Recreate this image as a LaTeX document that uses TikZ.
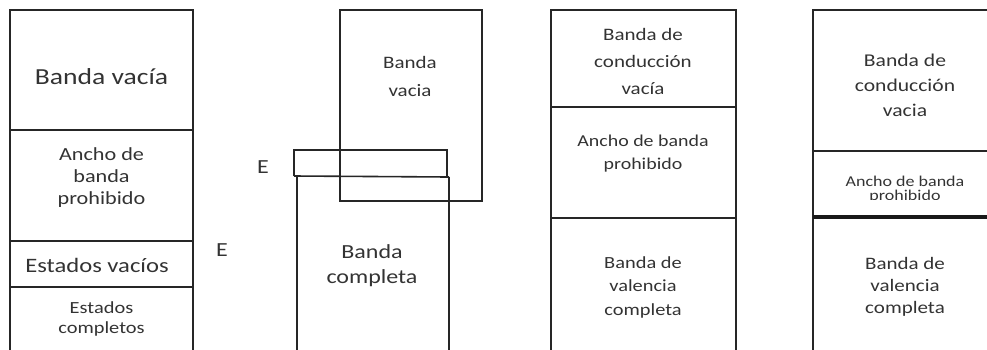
\documentclass[tikz,border=0pt]{standalone}
\usepackage{fontspec}
\setmainfont{Carlito}[FakeStretch=1.2]
\newcommand{\fsz}[2]{\fontsize{#1}{#2}\selectfont}
\tikzset{
  bx/.style={draw=black!85, line width=1.6pt},
  lbl/.style={align=center, text=black!80, inner sep=0pt},
}
\begin{document}
\begin{tikzpicture}[x=1pt,y=-1pt]
\useasboundingbox (0,0) rectangle (987,349);
\clip (0,0) rectangle (987,349);
% ---------- column 1
\draw[bx] (10,360) -- (10,10) -- (193,10) -- (193,360);
\draw[bx] (10,130) -- (193,130);
\draw[bx] (10,241) -- (193,241);
\draw[bx] (10,287) -- (193,287);
\node[lbl, font=\fsz{23}{27}] (c1a) at (101.5,77) {Banda vacía};
\node[lbl, font=\fsz{18.5}{22}] (c1b) at (101.5,178) {Ancho de\\banda\\prohibido};
\node[lbl, font=\fsz{20.5}{24}] (c1c) at (97,265) {Estados vacíos};
\node[lbl, font=\fsz{17}{19.5}] (c1d) at (101.5,319) {Estados\\completos};
\node[lbl, font=\fsz{20}{24}] (E1) at (222,250) {E};
% ---------- column 2
\draw[bx] (340,10) rectangle (482,201);
\draw[bx] (294,176) -- (294,150) -- (447,150) -- (447,177);
\draw[bx] (294,176) -- (449,177);
\draw[bx] (297,360) -- (297,177);
\draw[bx] (449,177) -- (449,360);
\node[lbl, font=\fsz{17.5}{28}] (c2a) at (410,76) {Banda\\vacia};
\node[lbl, font=\fsz{20}{24}] (E2) at (263,167) {E};
\node[lbl, font=\fsz{20}{25}] (c2b) at (372,266) {Banda\\completa};
% ---------- column 3
\draw[bx] (551,360) -- (551,10) -- (736,10) -- (736,360);
\draw[bx] (551,107) -- (736,107);
\draw[bx] (551,218) -- (736,218);
\node[lbl, font=\fsz{17.5}{27}] (c3a) at (643,61) {Banda de\\conducción\\vacía};
\node[lbl, font=\fsz{16.6}{23}] (c3b) at (643,154) {Ancho de banda\\prohibido};
\node[lbl, font=\fsz{17}{23.5}] (c3c) at (643,287) {Banda de\\valencia\\completa};
% ---------- column 4
\draw[bx] (813,360) -- (813,10) -- (990,10);
\draw[bx] (813,151) -- (990,151);
\draw[draw=black!90, line width=3.2pt] (813,217) -- (990,217);
\node[lbl, font=\fsz{18}{25}] (c4a) at (905,85) {Banda de\\conducción\\vacia};
\begin{scope}
\clip (815,153) rectangle (990,199);
\node[lbl, font=\fsz{15}{14}] (c4b) at (905,189) {Ancho de banda\\prohibido};
\end{scope}
\node[lbl, font=\fsz{17.5}{22}] (c4c) at (905,287) {Banda de\\valencia\\completa};
\end{tikzpicture}
\end{document}
